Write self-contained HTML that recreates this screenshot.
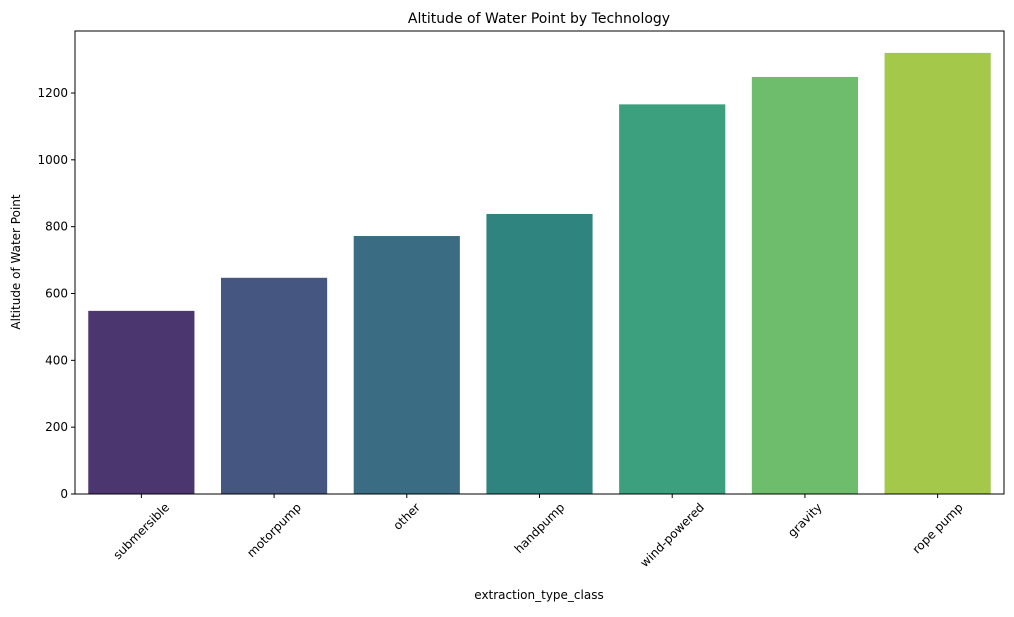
<!DOCTYPE html>
<html><head><meta charset="utf-8"><style>
body{margin:0;background:#fff;}
svg text{font-family:"DejaVu Sans","Liberation Sans",sans-serif;fill:#000;}
</style></head><body>
<svg id="chart" width="1014" height="612">
<text x="539" y="23" font-size="14" text-anchor="middle">Altitude of Water Point by Technology</text>
<g id="bars"></g>
<g id="axes"></g>
<rect x="75" y="31" width="929" height="463" fill="none" stroke="#000" stroke-width="1"/>
<text x="539" y="599" font-size="12" text-anchor="middle">extraction_type_class</text>
<text transform="translate(20,262) rotate(-90)" font-size="12" text-anchor="middle">Altitude of Water Point</text>
</svg>
<script>
const categories=["submersible","motorpump","other","handpump","wind-powered","gravity","rope pump"];
const values=[548,647,772,838,1166,1248,1320];
const colors=["#4b3670","#455681","#3a6d84","#30847f","#3ca07e","#6dbd6d","#a4c84a"];
const yTicks=[0,200,400,600,800,1000,1200];
const L=75,R=1004,T=31,B=494,YMAX=1385.5;
const ns="http://www.w3.org/2000/svg";
const y=v=>B-(v/YMAX)*(B-T);
const step=(R-L)/categories.length;
const xc=i=>L+step*(i+0.5);
const bars=document.getElementById('bars'),axes=document.getElementById('axes');
function mk(t,a,p){const e=document.createElementNS(ns,t);for(const k in a)e.setAttribute(k,a[k]);p.appendChild(e);return e;}
categories.forEach((c,i)=>{
 const w=step*0.8;
 const r=mk('rect',{x:xc(i)-w/2,y:y(values[i]),width:w,height:B-y(values[i]),fill:colors[i]},bars);
 
 
 mk('line',{x1:xc(i),x2:xc(i),y1:B,y2:B+4,stroke:'#000'},axes);
 const t=mk('text',{x:0,y:4,'font-size':12,'text-anchor':'middle'},axes);
 t.textContent=c;
 
 
 const len=t.getComputedTextLength();
 const hh=(len*0.7071+12*0.7071)/2;
 t.setAttribute('transform',`translate(${xc(i)},${B+7+hh}) rotate(-45)`);
});
yTicks.forEach(v=>{
 mk('line',{x1:L-4,x2:L,y1:y(v),y2:y(v),stroke:'#000'},axes);
 const t=mk('text',{x:L-7,y:y(v)+4,'font-size':12,'text-anchor':'end'},axes);
 t.textContent=v;
 
 
});
</script>
</body></html>
